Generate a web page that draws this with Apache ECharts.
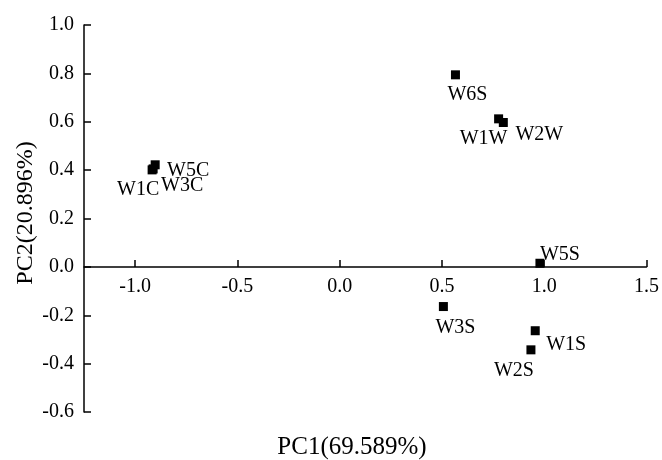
<!DOCTYPE html>
<html>
<head>
<meta charset="utf-8">
<script src="https://cdn.jsdelivr.net/npm/echarts@6/dist/echarts.min.js"></script>
<style>
  html, body { margin: 0; padding: 0; background: #fff; }
  #chart { width: 662px; height: 460px; }
</style>
</head>
<body>
<div id="chart"></div>
<script>
// PCA sample scores
const sampleNames = ['W6S', 'W1W', 'W2W', 'W5C', 'W1C', 'W3C', 'W5S', 'W3S', 'W1S', 'W2S'];
const pc1Scores  = [0.566, 0.777, 0.800, -0.902, -0.917, -0.912, 0.979, 0.507, 0.956, 0.935];
const pc2Scores  = [0.794, 0.612, 0.597, 0.422, 0.401, 0.405, 0.015, -0.164, -0.264, -0.343];

// Axis tick values
const xTickValues = [-1.0, -0.5, 0.0, 0.5, 1.0, 1.5];
const yTickValues = [-0.6, -0.4, -0.2, 0.0, 0.2, 0.4, 0.6, 0.8, 1.0];

const xAxisTitle = 'PC1(69.589%)';
const yAxisTitle = 'PC2(20.896%)';

// label offsets (px, from marker centre to label centre)
const labelOffsets = {
  W6S: [12, 20], W1W: [-15, 20], W2W: [36, 12],
  W5C: [33, 6], W1C: [-14, 20], W3C: [29, 17],
  W5S: [20, -8], W3S: [12, 21], W1S: [31, 14], W2S: [-17, 21]
};

const FONT = 'Liberation Serif, Times New Roman, serif';
const INK = '#000';

const X_MIN = -1.25, X_MAX = 1.5;
const Y_MIN = yTickValues[0], Y_MAX = yTickValues[yTickValues.length - 1];
const GRID = { left: 84, right: 14, top: 25, bottom: 48 };
const H = 460;

// the horizontal axis crosses at PC2 = 0: shift it up from the grid bottom
const plotHeight = H - GRID.top - GRID.bottom;
const xAxisLift = (0 - Y_MIN) / (Y_MAX - Y_MIN) * plotHeight;

const points = sampleNames.map((n, i) => ({
  value: [pc1Scores[i], pc2Scores[i]],
  name: n,
  label: { offset: labelOffsets[n] }
}));

const chart = echarts.init(document.getElementById('chart'), null, { renderer: 'canvas' });
chart.setOption({
  animation: false,
  backgroundColor: '#fff',
  grid: Object.assign({ containLabel: false }, GRID),
  xAxis: {
    type: 'value',
    min: X_MIN,
    max: X_MAX,
    position: 'bottom',
    offset: -xAxisLift,
    axisLine: { onZero: false, lineStyle: { color: INK, width: 1.5 } },
    axisTick: { show: true, inside: true, length: 7, customValues: xTickValues, lineStyle: { color: INK, width: 1.5 } },
    axisLabel: {
      customValues: xTickValues,
      margin: 10,
      color: INK, fontFamily: FONT, fontSize: 20,
      formatter: v => v.toFixed(1)
    },
    splitLine: { show: false }
  },
  yAxis: {
    type: 'value',
    min: Y_MIN,
    max: Y_MAX,
    interval: 0.2,
    axisLine: { show: true, onZero: false, lineStyle: { color: INK, width: 1.5 } },
    axisTick: { show: true, inside: true, length: 7, lineStyle: { color: INK, width: 1.5 } },
    axisLabel: {
      margin: 10,
      color: INK, fontFamily: FONT, fontSize: 20,
      formatter: v => (Math.abs(v) < 1e-9 ? 0 : v).toFixed(1)
    },
    splitLine: { show: false }
  },
  graphic: [{
    type: 'text',
    x: 352, y: 447,
    style: {
      text: xAxisTitle,
      fill: INK, font: '25px ' + FONT,
      textAlign: 'center', textVerticalAlign: 'middle'
    }
  }, {
    type: 'text',
    x: 26, y: 213,
    rotation: Math.PI / 2,
    style: {
      text: yAxisTitle,
      fill: INK, font: '24px ' + FONT,
      textAlign: 'center', textVerticalAlign: 'middle'
    }
  }],
  series: [{
    type: 'scatter',
    symbol: 'rect',
    symbolSize: 9,
    itemStyle: { color: INK, opacity: 1 },
    data: points,
    label: {
      show: true,
      position: 'inside',
      align: 'center',
      verticalAlign: 'middle',
      color: INK,
      fontFamily: FONT,
      fontSize: 20,
      formatter: p => p.name
    }
  }]
});
</script>
</body>
</html>
